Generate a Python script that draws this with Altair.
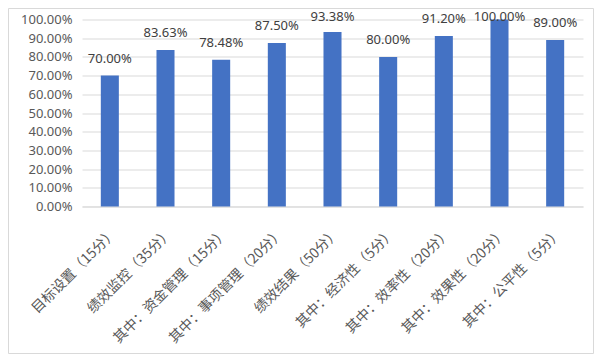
import altair as alt
import pandas as pd

categories = [
    "目标设置（15分）",
    "绩效监控（35分）",
    "其中：资金管理（15分）",
    "其中：事项管理（20分）",
    "绩效结果（50分）",
    "其中：经济性（5分）",
    "其中：效率性（20分）",
    "其中：效果性（20分）",
    "其中：公平性（5分）",
]
values = [0.70, 0.8363, 0.7848, 0.875, 0.9338, 0.80, 0.912, 1.00, 0.89]
y_ticks = [0, 0.1, 0.2, 0.3, 0.4, 0.5, 0.6, 0.7, 0.8, 0.9, 1.0]

df = pd.DataFrame({"cat": categories, "v": values})

W, H = 501, 187
PL, PT = 74, 11.5
TOTAL_W, TOTAL_H = 586, 346

x_axis = alt.Axis(
    labelAngle=-45,
    labelAlign="right",
    labelBaseline="middle",
    labelFont="Noto Sans CJK SC",
    labelFontSize=14,
    labelColor="#595959",
    labelPadding=24,
    labelOffset=5,
    ticks=False,
    domainColor="#d9d9d9",
    domainWidth=1,
    grid=False,
    labelLimit=300,
    labelOverlap=False,
)
x_scale = alt.Scale(paddingInner=0.676, paddingOuter=0.338)

y_axis = alt.Axis(
    values=y_ticks,
    format=".2%",
    labelFont="Noto Sans",
    labelFontSize=13,
    labelColor="#595959",
    labelPadding=10,
    labelOverlap=False,
    ticks=False,
    domain=False,
    grid=True,
    gridColor="#d9d9d9",
    gridWidth=1,
)
y_scale = alt.Scale(domain=[0, 1], nice=False)

base = alt.Chart(df)

bars = base.mark_bar(color="#4472C4").encode(
    x=alt.X("cat:N", sort=categories, title=None, scale=x_scale, axis=x_axis),
    y=alt.Y("v:Q", title=None, scale=y_scale, axis=y_axis),
)

labels = base.transform_calculate(ly="min(datum.v, 0.925)").mark_text(
    dy=-13,
    baseline="alphabetic",
    align="center",
    font="Noto Sans",
    fontSize=13,
    color="#404040",
).encode(
    x=alt.X("cat:N", sort=categories, title=None, scale=x_scale, axis=x_axis),
    y=alt.Y("ly:Q", title=None, scale=y_scale, axis=y_axis),
    text=alt.Text("v:Q", format=".2%"),
)

border = alt.Chart(pd.DataFrame({"a": [0]})).mark_rect(
    fill=None, stroke="#d9d9d9", strokeWidth=1
).encode(
    x=alt.value(-PL + 0.5),
    x2=alt.value(TOTAL_W - PL - 0.5),
    y=alt.value(-PT + 0.5),
    y2=alt.value(TOTAL_H - PT - 0.5),
)

chart = (
    alt.layer(bars, labels, border)
    .properties(
        width=W,
        height=H,
        autosize=alt.AutoSizeParams(type="none"),
        padding={"left": PL, "top": PT, "right": TOTAL_W - PL - W, "bottom": TOTAL_H - PT - H},
        background="white",
    )
    .configure_view(stroke=None)
)

chart.save("out.html", embed_options={"renderer": "svg", "actions": False})
